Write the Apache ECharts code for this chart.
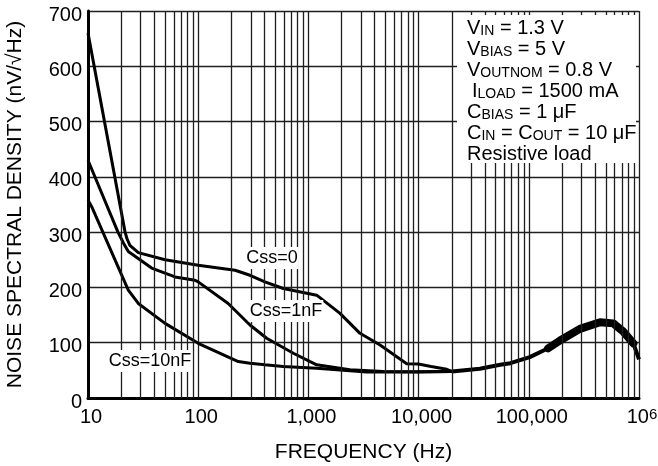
<!DOCTYPE html>
<html>
<head>
<meta charset="utf-8">
<script src="https://cdn.jsdelivr.net/npm/echarts@6/dist/echarts.min.js"></script>
<style>
html,body{margin:0;padding:0;background:#fff;}
#chart{width:658px;height:466px;}
</style>
</head>
<body>
<div id="chart"></div>
<script>
// ---- data ----
var css0Freq = [10, 21.7, 22.6, 24, 28.6, 50, 100, 216, 295, 403, 592, 1189, 1936, 2937, 4470, 7800, 9930, 13000, 18000, 20000];
var css0Val  = [660, 300, 288, 276, 263, 250, 240, 231, 222, 210, 198, 186, 153, 117, 96, 62, 61.5, 57, 52, 48];

var css1nFreq = [10, 18.7, 21, 23.2, 37.8, 61.6, 93.5, 100, 187, 295, 418, 730, 1189, 2380, 4786, 10000, 20000];
var css1nVal  = [430, 300, 280, 265, 235, 219, 213, 210, 171, 132, 108, 81, 60, 51, 48, 47.5, 48];

var css10nFreq = [10, 10.8, 23.2, 28.6, 50, 100, 231, 295, 403, 590, 1189, 3380, 9500, 20000];
var css10nVal  = [358, 346, 195, 171, 135, 99, 66, 63, 60, 57, 54, 47, 47, 48];

var hfFreq = [20000, 36000, 55000, 68000, 102000, 150000, 192000, 291000, 443000, 585000, 721000, 889000, 1000000];
var hfVal  = [48, 53, 60, 63, 74, 90, 104, 125, 137, 135, 120, 99, 70];

var yTicks = [0, 100, 200, 300, 400, 500, 600, 700];
var curveLabels = ['Css=0', 'Css=1nF', 'Css=10nF'];
var condLines = [
  [['m','V'],['s','IN'],['m',' = 1.3 V']],
  [['m','V'],['s','BIAS'],['m',' = 5 V']],
  [['m','V'],['s','OUTNOM'],['m',' = 0.8 V']],
  [['m','I'],['s','LOAD'],['m',' = 1500 mA']],
  [['m','C'],['s','BIAS'],['m',' = 1 \u03bcF']],
  [['m','C'],['s','IN'],['m',' = C'],['s','OUT'],['m',' = 10 \u03bcF']],
  [['m','Resistive load']]
];

function zip(a, b) { return a.map(function (x, i) { return [x, b[i]]; }); }

var FONT = '"Liberation Sans", Arial, Helvetica, sans-serif';
var GRID = '#1f1f1f';

// minor log grid positions (2..9 per decade)
var minor = [];
for (var d = 10; d < 1e6; d *= 10) {
  for (var k = 2; k <= 9; k++) minor.push({ xAxis: d * k });
}

var chart = echarts.init(document.getElementById('chart'), null, { renderer: 'canvas' });

var lineStyle = { color: '#000', width: 3 };

function richLine(parts) {
  return parts.map(function (p) { return '{' + p[0] + '|' + p[1] + '}'; }).join('');
}

var graphics = [
  { type: 'rect', z: 100, shape: { x: 457, y: 15, width: 179, height: 148 }, style: { fill: '#fff' } }
];
var lineY = [28, 49, 70, 91, 112, 133, 154];
condLines.forEach(function (parts, i) {
  graphics.push({
    type: 'text', z: 101,
    x: (i === 3 ? 472 : 467), y: lineY[i],
    style: {
      text: richLine(parts),
      verticalAlign: 'middle',
      fill: '#000',
      font: '20px ' + FONT,
      rich: {
        m: { fontSize: 20, fontFamily: FONT, lineHeight: 20, verticalAlign: 'bottom', fill: '#000' },
        s: { fontSize: 14, fontFamily: FONT, lineHeight: 8, verticalAlign: 'bottom', fill: '#000' }
      }
    }
  });
});
var labelPos = [[272, 258], [286, 311], [150, 361]];
curveLabels.forEach(function (t, i) {
  graphics.push({
    type: 'text', z: 100,
    x: labelPos[i][0], y: labelPos[i][1],
    style: {
      text: t, align: 'center', verticalAlign: 'middle',
      fill: '#000', fontSize: 18, fontFamily: FONT,
      backgroundColor: '#fff', padding: [2, 1, 2, 1]
    }
  });
});

var option = {
  animation: false,
  backgroundColor: '#fff',
  grid: { left: 88, right: 19, top: 11, bottom: 68, containLabel: false, outerBoundsMode: 'none' },
  xAxis: {
    type: 'log', logBase: 10, min: 10, max: 1000000,
    name: 'FREQUENCY (Hz)', nameLocation: 'middle', nameGap: 44,
    nameTextStyle: { fontSize: 21, fontFamily: FONT, color: '#000' },
    axisLine: { show: true, onZero: false, lineStyle: { color: '#000', width: 3 } },
    axisTick: { show: false },
    axisLabel: {
      margin: 9, color: '#000', fontSize: 20, fontFamily: FONT, showMaxLabel: true, showMinLabel: true,
      formatter: function (v) {
        if (Math.abs(v - 1e6) < 1) return '{b|10}{sup|6}';
        return '{b|' + Math.round(v).toLocaleString('en-US') + '}';
      },
      rich: {
        b: { fontSize: 20, fontFamily: FONT, color: '#000', lineHeight: 20, padding: [0, 0, 0, 6] },
        sup: { fontSize: 15, fontFamily: FONT, color: '#000', lineHeight: 15, verticalAlign: 'top' }
      }
    },
    splitLine: { show: true, lineStyle: { color: GRID, width: 1.3 } }
  },
  yAxis: {
    type: 'value', min: 0, max: 700, interval: 100,
    name: 'NOISE SPECTRAL DENSITY (nV/\u221aHz)', nameLocation: 'middle', nameGap: 62,
    nameTextStyle: { fontSize: 21, fontFamily: FONT, color: '#000' },
    axisLine: { show: true, lineStyle: { color: '#000', width: 3 } },
    axisTick: { show: false },
    axisLabel: {
      margin: 6, color: '#000', fontSize: 20, fontFamily: FONT,
      verticalAlign: 'top', lineHeight: 8,
      formatter: function (v) { return yTicks.indexOf(v) >= 0 ? String(v) : ''; }
    },
    splitLine: { show: true, lineStyle: { color: GRID, width: 1.3 } }
  },
  graphic: graphics,
  series: [
    {
      name: 'grid', type: 'line', z: 1, data: [[10, 0]], symbol: 'none', silent: true,
      lineStyle: { opacity: 0 },
      markLine: {
        silent: true, symbol: ['none', 'none'], label: { show: false },
        lineStyle: { type: 'solid', color: GRID, width: 1.3 },
        data: minor
      }
    },
    { name: 'Css=0', type: 'line', z: 3, data: zip(css0Freq, css0Val), symbol: 'none', lineStyle: lineStyle },
    { name: 'Css=1nF', type: 'line', z: 3, data: zip(css1nFreq, css1nVal), symbol: 'none', lineStyle: lineStyle },
    { name: 'Css=10nF', type: 'line', z: 3, data: zip(css10nFreq, css10nVal), symbol: 'none', lineStyle: lineStyle },
    { name: 'common', type: 'line', z: 3, data: zip(hfFreq, hfVal), symbol: 'none', lineStyle: { color: '#000', width: 4 } },
    { name: 'common-band', type: 'line', z: 3, data: zip(hfFreq.slice(5, 12), hfVal.slice(5, 12)), symbol: 'none', lineStyle: { color: '#000', width: 8, cap: 'round', join: 'round' } }
  ]
};
chart.setOption(option);
</script>
</body>
</html>
